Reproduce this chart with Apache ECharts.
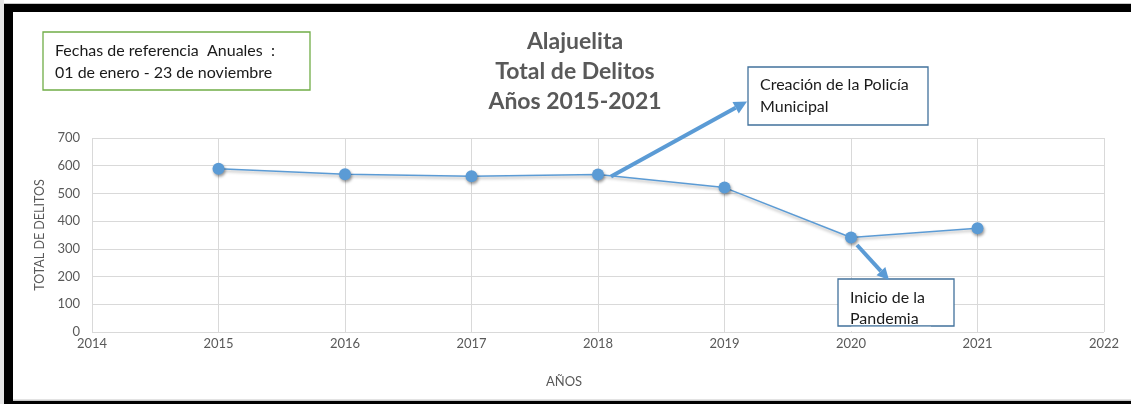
<!DOCTYPE html>
<html>
<head>
<meta charset="utf-8">
<style>
  html, body { margin: 0; padding: 0; background: #fff; }
  #chart { width: 1131px; height: 404px; }
</style>
<script src="https://cdn.jsdelivr.net/npm/echarts@6/dist/echarts.min.js"></script>
</head>
<body>
<div id="chart"></div>
<script>
// Total de delitos registrados en Alajuelita por año
const years = [2015, 2016, 2017, 2018, 2019, 2020, 2021];
const totalDelitos = [589, 569, 562, 568, 521, 341, 374];
const titleLines = ['Alajuelita', 'Total de Delitos', 'Años 2015-2021'];
const noteReferencia = ['Fechas de referencia  Anuales  :', '01 de enero - 23 de noviembre'];
const notePolicia = ['Creación de la Policía', 'Municipal'];
const notePandemia = ['Inicio de la', 'Pandemia'];

const FONT = 'Lato, "Open Sans", sans-serif';
const BLUE = '#5b9bd5';
const GRID = '#d9d9d9';
const AXIS_TEXT = '#595959';

const chart = echarts.init(document.getElementById('chart'));

// arrow made of a thick line and a triangular head
function arrow(x1, y1, x2, y2, width, headLen, headW) {
  const dx = x2 - x1, dy = y2 - y1;
  const len = Math.sqrt(dx * dx + dy * dy);
  const ux = dx / len, uy = dy / len;
  const bx = x2 - ux * headLen, by = y2 - uy * headLen;
  const px = -uy * headW / 2, py = ux * headW / 2;
  return [
    { type: 'line', z: 50, shape: { x1: x1, y1: y1, x2: bx, y2: by },
      style: { stroke: BLUE, lineWidth: width } },
    { type: 'polygon', z: 50,
      shape: { points: [[x2, y2], [bx + px, by + py], [bx - px, by - py]] },
      style: { fill: BLUE } }
  ];
}

function noteBox(x, y, w, h, stroke, lines, tx, ty, lh, size) {
  const els = [{
    type: 'rect', z: 40, shape: { x: x, y: y, width: w, height: h },
    style: { fill: '#fff', stroke: stroke, lineWidth: 1.3 }
  }];
  lines.forEach(function (t, i) {
    els.push({
      type: 'text', z: 41, x: tx, y: ty + i * lh,
      style: { text: t, font: size + 'px ' + FONT, fill: '#1a1a1a',
               textAlign: 'left', textVerticalAlign: 'middle' }
    });
  });
  return els;
}

const graphics = [];
// page frame
graphics.push(
  { type: 'rect', z: 60, shape: { x: 0, y: 3, width: 1131, height: 1 }, style: { fill: '#c8c8c8' } },
  { type: 'rect', z: 60, shape: { x: 4, y: 4, width: 1127, height: 8 }, style: { fill: '#000' } },
  { type: 'rect', z: 60, shape: { x: 0, y: 0, width: 4, height: 404 }, style: { fill: '#e6e6e6' } },
  { type: 'rect', z: 60, shape: { x: 4, y: 4, width: 9, height: 400 }, style: { fill: '#000' } },
  { type: 'rect', z: 60, shape: { x: 13, y: 399.5, width: 1118, height: 1.5 }, style: { fill: '#c8c8c8' } },
  { type: 'rect', z: 60, shape: { x: 4, y: 401, width: 1127, height: 3 }, style: { fill: '#000' } }
);
// title
titleLines.forEach(function (t, i) {
  graphics.push({
    type: 'text', z: 30, x: 575, y: 42 + i * 30,
    style: { text: t, font: 'bold 23px ' + FONT, fill: AXIS_TEXT,
             textAlign: 'center', textVerticalAlign: 'middle' }
  });
});
// x axis name
graphics.push({
  type: 'text', z: 30, x: 564, y: 382,
  style: { text: 'AÑOS', font: '13px ' + FONT, fill: AXIS_TEXT,
           textAlign: 'center', textVerticalAlign: 'middle' }
});
// annotations
graphics.push.apply(graphics, noteBox(43, 32, 267, 58, '#70ad47', noteReferencia, 55, 51, 22, 16));
graphics.push.apply(graphics, noteBox(748, 67, 180, 58, '#41719c', notePolicia, 760, 85, 22, 16));
graphics.push.apply(graphics, noteBox(838, 279, 116, 47, '#41719c', notePandemia, 850, 297.5, 21.5, 16));
// hide the part of the last note line that falls below its box
graphics.push({ type: 'rect', z: 45, shape: { x: 851, y: 326.7, width: 80, height: 4.5 }, style: { fill: '#fff' } });
graphics.push.apply(graphics, arrow(611, 176.5, 747, 101.5, 4, 13, 13));
graphics.push.apply(graphics, arrow(857, 245, 889, 280, 4, 12, 12));

chart.setOption({
  animation: false,
  backgroundColor: '#fff',
  grid: { left: 92, right: 27, top: 138, bottom: 72, containLabel: false },
  xAxis: {
    type: 'value', min: 2014, max: 2022, interval: 1,
    axisLine: { show: false }, axisTick: { show: false },
    axisLabel: { color: AXIS_TEXT, fontFamily: FONT, fontSize: 13, margin: 5,
                 formatter: function (v) { return String(v); } },
    splitLine: { show: true, lineStyle: { color: GRID, width: 1 } }
  },
  yAxis: {
    type: 'value', min: 0, max: 700, interval: 100,
    name: 'TOTAL DE DELITOS', nameLocation: 'middle', nameGap: 41,
    nameTextStyle: { color: AXIS_TEXT, fontFamily: FONT, fontSize: 12.5 },
    axisLine: { show: false }, axisTick: { show: false },
    axisLabel: { color: AXIS_TEXT, fontFamily: FONT, fontSize: 13, margin: 12 },
    splitLine: { show: true, lineStyle: { color: GRID, width: 1 } }
  },
  series: [{
    type: 'line',
    data: years.map(function (y, i) { return [y, totalDelitos[i]]; }),
    symbol: 'circle', symbolSize: 12,
    lineStyle: { color: BLUE, width: 1.5, shadowColor: 'rgba(0,0,0,0.3)', shadowBlur: 3, shadowOffsetY: 2 },
    itemStyle: { color: BLUE, shadowColor: 'rgba(0,0,0,0.4)', shadowBlur: 3, shadowOffsetX: 1, shadowOffsetY: 2 },
    z: 20
  }],
  graphic: graphics
});
</script>
</body>
</html>
